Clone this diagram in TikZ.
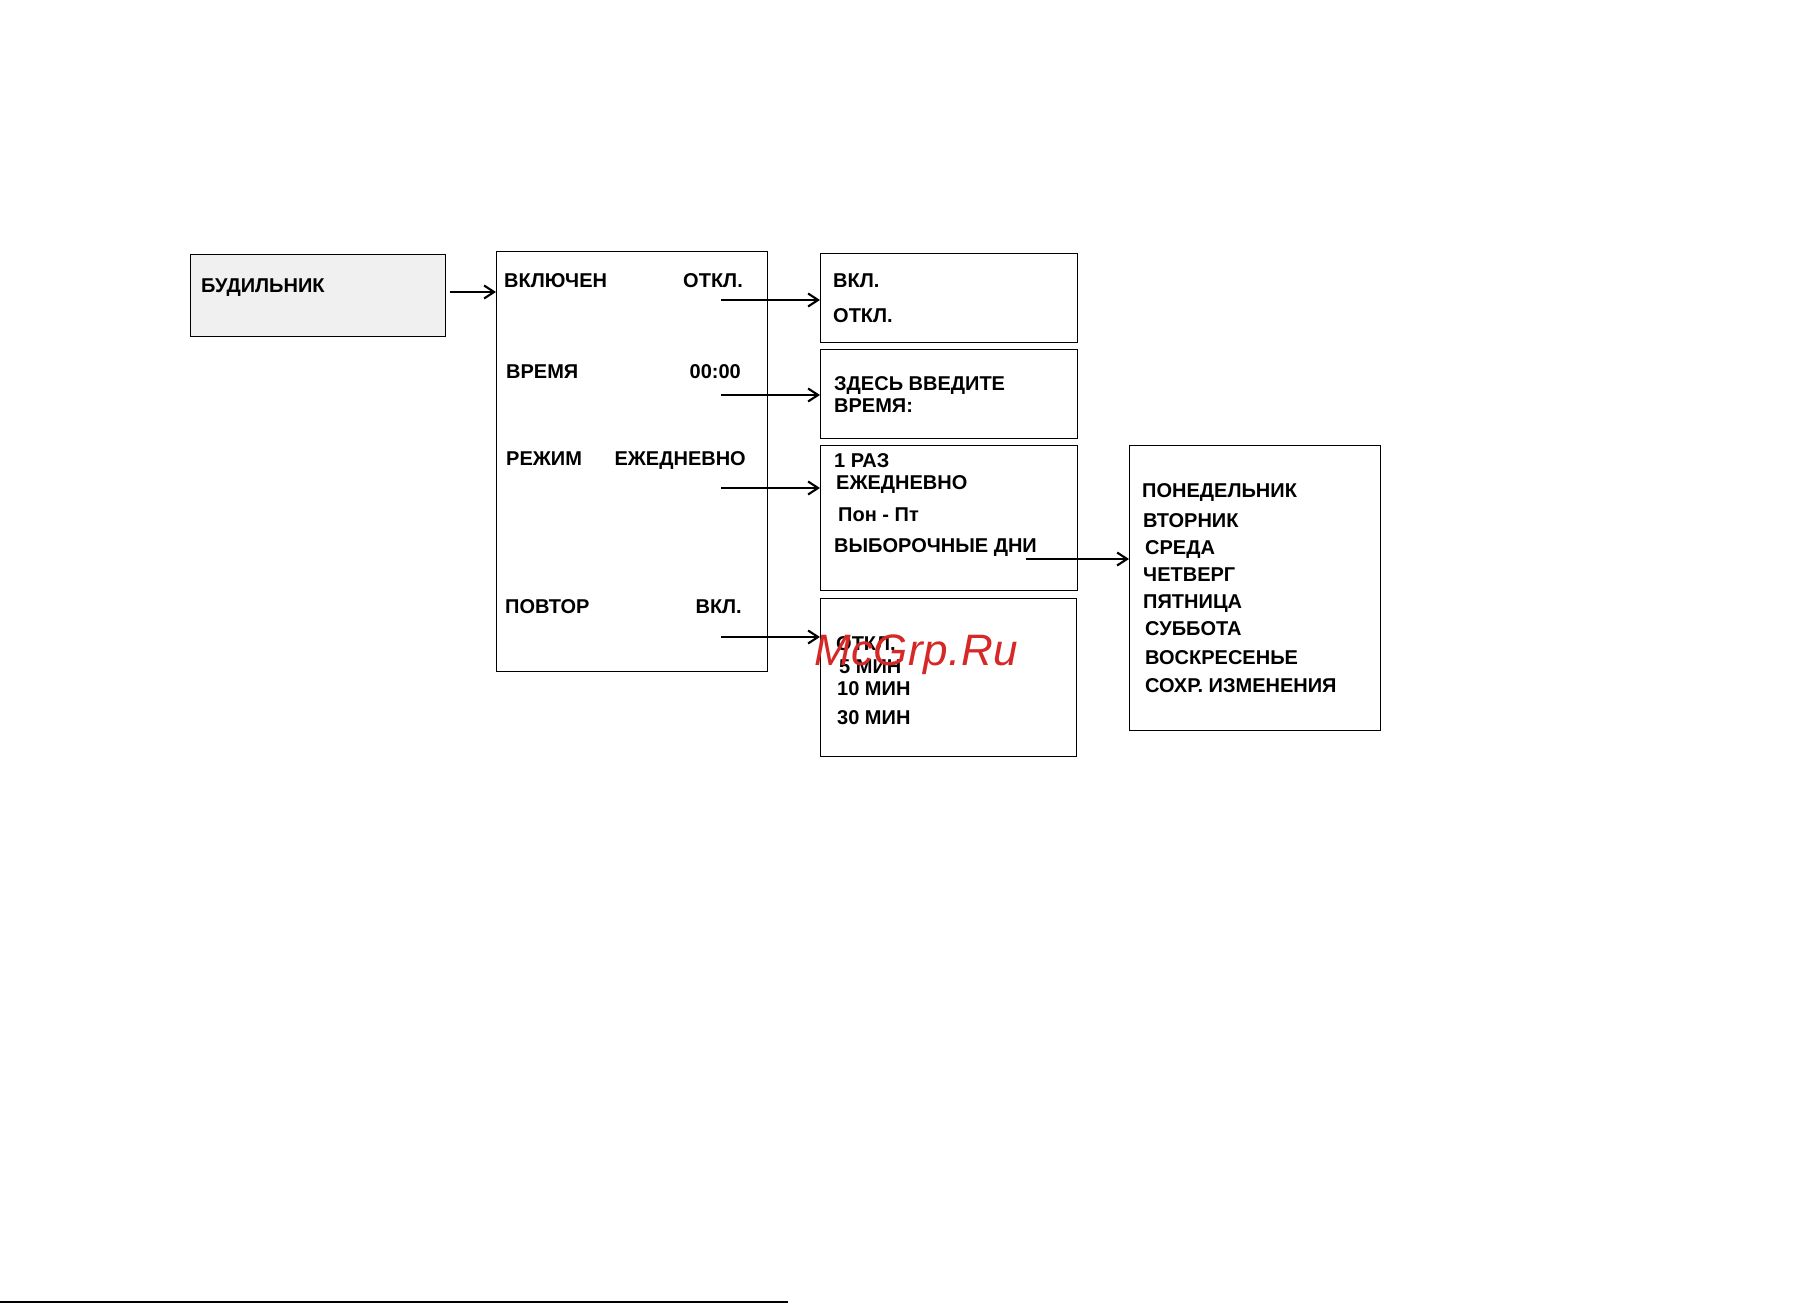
\documentclass[tikz,border=0pt]{standalone}
\usepackage{fontspec}
\setmainfont{Liberation Sans}
\newfontfamily\wmfont[LetterSpace=1]{Liberation Sans}
\usetikzlibrary{arrows.meta}
\begin{document}
\begin{tikzpicture}[x=1pt,y=-1pt,
  box/.style={draw=black,line width=1.4pt,anchor=north west,inner sep=0pt},
  txt/.style={anchor=west,inner sep=0pt,text height=14pt,text depth=0pt,font=\fontsize{20}{23}\selectfont\bfseries},
  rtxt/.style={txt,anchor=east},
  conn/.style={line width=2.1pt,-{Straight Barb[length=10pt,width=13pt,line width=2.1pt]}}]
\useasboundingbox (0,0) rectangle (1817,1305);
\fill[white] (0,0) rectangle (1817,1305);
% boxes
\node[box,fill={rgb,255:red,240;green,240;blue,240},minimum width=255pt,minimum height=82pt] (A) at (190,254) {};
\node[box,minimum width=271pt,minimum height=420pt] (B) at (496,251) {};
\node[box,minimum width=257pt,minimum height=89pt] (C1) at (820,253) {};
\node[box,minimum width=257pt,minimum height=89pt] (C2) at (820,349) {};
\node[box,minimum width=257pt,minimum height=145pt] (C3) at (820,445) {};
\node[box,minimum width=256pt,minimum height=158pt] (C4) at (820,598) {};
\node[box,minimum width=251pt,minimum height=285pt] (D) at (1129,445) {};
% texts
\node[txt] (tA) at (201,286) {БУДИЛЬНИК};
\node[txt] (b1) at (504,281) {ВКЛЮЧЕН};
\node[rtxt] (b1v) at (743,281) {ОТКЛ.};
\node[txt] (b2) at (506,371) {ВРЕМЯ};
\node[rtxt] (b2v) at (741,371) {00:00};
\node[txt] (b3) at (506,458) {РЕЖИМ};
\node[rtxt] (b3v) at (746,458) {ЕЖЕДНЕВНО};
\node[txt] (b4) at (505,606) {ПОВТОР};
\node[rtxt] (b4v) at (742,606) {ВКЛ.};
\node[txt] (c11) at (833,281) {ВКЛ.};
\node[txt] (c12) at (833,316) {ОТКЛ.};
\node[txt] (c21) at (834,383) {ЗДЕСЬ ВВЕДИТЕ};
\node[txt] (c22) at (834,405) {ВРЕМЯ:};
\node[txt] (c31) at (834,460) {1 РАЗ};
\node[txt] (c32) at (836,482) {ЕЖЕДНЕВНО};
\node[txt] (c33) at (838,514) {Пон - Пт};
\node[txt] (c34) at (834,545) {ВЫБОРОЧНЫЕ ДНИ};
\node[txt] (c41) at (836,643) {ОТКЛ.};
\node[txt] (c42) at (839,666) {5 МИН};
\node[txt] (c43) at (837,688) {10 МИН};
\node[txt] (c44) at (837,717) {30 МИН};
\node[txt] (d1) at (1142,490) {ПОНЕДЕЛЬНИК};
\node[txt] (d2) at (1143,520) {ВТОРНИК};
\node[txt] (d3) at (1145,547) {СРЕДА};
\node[txt] (d4) at (1143,574) {ЧЕТВЕРГ};
\node[txt] (d5) at (1143,601) {ПЯТНИЦА};
\node[txt] (d6) at (1145,628) {СУББОТА};
\node[txt] (d7) at (1145,657) {ВОСКРЕСЕНЬЕ};
\node[txt] (d8) at (1145,685) {СОХР. ИЗМЕНЕНИЯ};
% connectors
\coordinate (sA) at (450,292);
\coordinate (s1) at (721,300);
\coordinate (s2) at (721,395);
\coordinate (s3) at (721,488);
\coordinate (s4) at (721,637);
\coordinate (s5) at (1026,559);
\draw[conn] (sA) -- (sA -| B.west);
\draw[conn] (s1) -- (s1 -| C1.west);
\draw[conn] (s2) -- (s2 -| C2.west);
\draw[conn,line width=2.8pt] (s3) -- (s3 -| C3.west);
\draw[conn] (s4) -- (s4 -| C4.west);
\draw[conn] (s5) -- (s5 -| D.west);
% bottom rule
\coordinate (L1) at (0,1302);
\coordinate (L2) at (788,1302);
\draw[line width=1.6pt] (L1) -- (L2);
% watermark
\node[anchor=west,inner sep=0pt,text={rgb,255:red,215;green,40;blue,40},font=\fontsize{44}{48}\wmfont\itshape] (wm) at (814,655) {McGrp.Ru};
\end{tikzpicture}
\end{document}
